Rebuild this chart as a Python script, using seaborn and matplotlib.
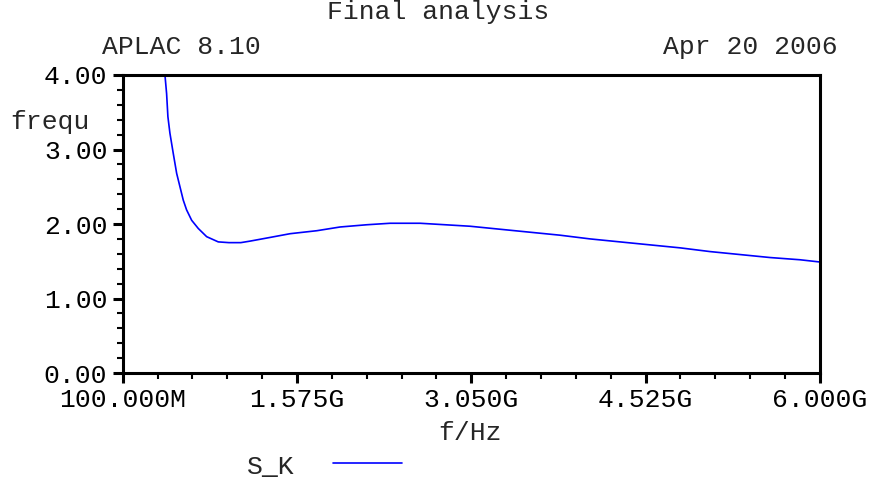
import matplotlib
matplotlib.use("Agg")
import matplotlib.pyplot as plt
import seaborn as sns
import pandas as pd
import numpy as np
from matplotlib.ticker import AutoMinorLocator

# Data (frequency in GHz, S_K value)
freq_ghz = [0.452, 0.458, 0.472, 0.483, 0.500, 0.528, 0.557, 0.585, 0.613, 0.641,
            0.684, 0.740, 0.811, 0.909, 1.000, 1.100, 1.177, 1.348, 1.517, 1.743,
            1.940, 2.166, 2.363, 2.617, 2.829, 3.040, 3.292, 3.546, 3.800, 4.055,
            4.308, 4.562, 4.817, 5.070, 5.324, 5.578, 5.832, 6.000]
s_k = [4.10, 4.00, 3.75, 3.44, 3.22, 2.95, 2.68, 2.50, 2.32, 2.19,
       2.05, 1.94, 1.83, 1.76, 1.75, 1.75, 1.77, 1.82, 1.87, 1.91,
       1.96, 1.99, 2.01, 2.01, 1.99, 1.97, 1.93, 1.89, 1.85, 1.80,
       1.76, 1.72, 1.68, 1.63, 1.59, 1.55, 1.52, 1.49]
x_ticks = [0.1, 1.575, 3.05, 4.525, 6.0]
x_tick_labels = ["100.000M", "1.575G", "3.050G", "4.525G", "6.000G"]
y_ticks = [0.0, 1.0, 2.0, 3.0, 4.0]
y_tick_labels = ["0.00", "1.00", "2.00", "3.00", "4.00"]
series_name = "S_K"

sns.set_style("ticks")
plt.rcParams['font.family'] = ['Liberation Mono', 'DejaVu Sans Mono']
FS = 19

fig = plt.figure(figsize=(8.76, 4.82), dpi=100)
ax = fig.add_axes([0.140, 0.2261, 0.796, 0.6183])

df = pd.DataFrame({"f": freq_ghz, "v": s_k})
sns.lineplot(data=df, x="f", y="v", ax=ax, color="#0000FF", linewidth=1.2,
             legend=False)

ax.set_xlim(0.1, 6.0)
ax.set_ylim(0.0, 4.0)
ax.set_xticks(x_ticks)
ax.set_xticklabels(x_tick_labels, fontsize=FS)
ax.set_yticks(y_ticks)
ax.set_yticklabels(y_tick_labels, fontsize=FS)
ax.xaxis.set_minor_locator(AutoMinorLocator(5))
ax.yaxis.set_minor_locator(AutoMinorLocator(5))
ax.tick_params(axis='both', which='major', length=7, width=2.2, color='black',
               direction='out', pad=4, labelcolor='black')
ax.tick_params(axis='both', which='minor', length=4, width=1.5, color='black',
               direction='out')
ax.set_xlabel("")
ax.set_ylabel("")
for s in ax.spines.values():
    s.set_visible(True)
    s.set_linewidth(2.2)
    s.set_color('black')

fig.text(0.5, 0.975, "Final analysis", ha='center', va='center', fontsize=FS)
fig.text(102/876, 1-47/482, "APLAC 8.10", ha='left', va='center', fontsize=FS)
fig.text(838/876, 1-47/482, "Apr 20 2006", ha='right', va='center', fontsize=FS)
fig.text(10/876, 1-122/482, "frequ", ha='left', va='center', fontsize=FS)
fig.text(470/876, 1-433/482, "f/Hz", ha='center', va='center', fontsize=FS)
fig.text(295/876, 1-467/482, series_name, ha='right', va='center', fontsize=FS)
fig.add_artist(plt.Line2D([333/876, 402/876], [1-463/482, 1-463/482],
                          color="#0000FF", linewidth=1.2, transform=fig.transFigure))

fig.savefig("out.png", dpi=100)
